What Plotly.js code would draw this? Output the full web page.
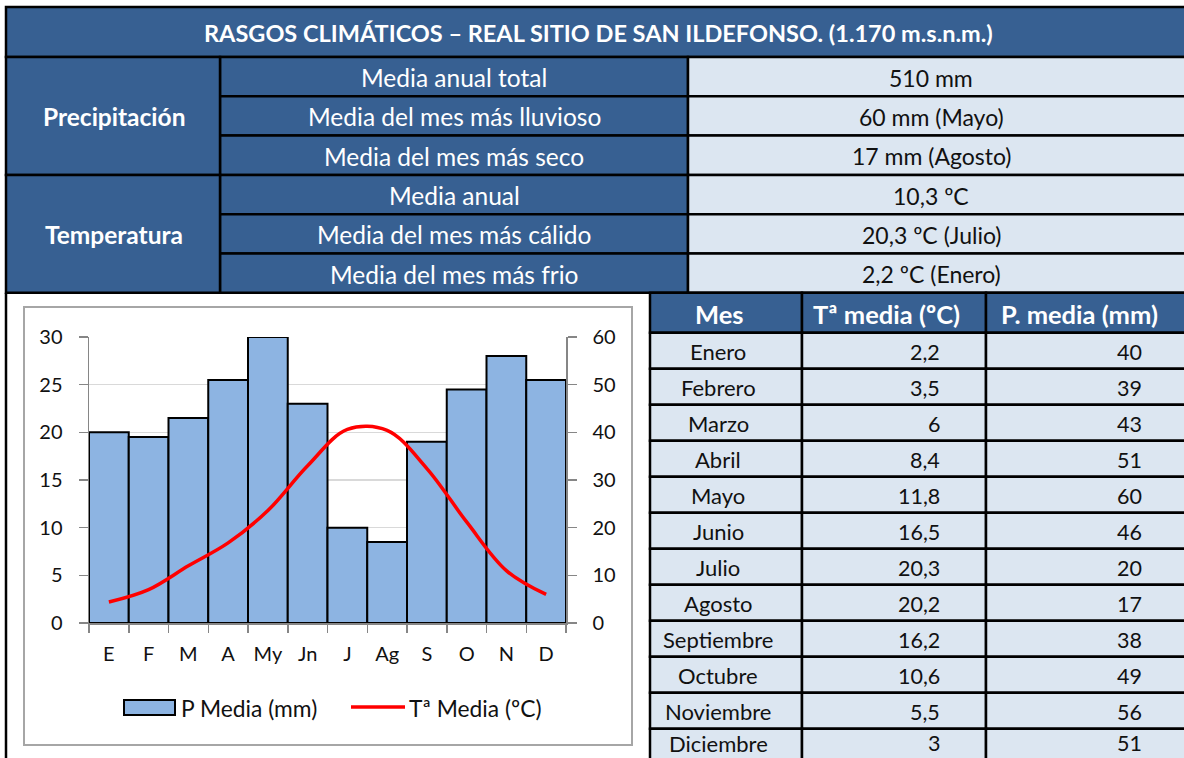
<!DOCTYPE html>
<html><head><meta charset="utf-8">
<script src="https://cdn.plot.ly/plotly-3.0.1.min.js"></script>
<style>html,body{margin:0;padding:0;background:#fff;}#chart{width:1184px;height:758px;}</style>
</head><body><div id="chart"></div>
<script>
// ---------- DATA ----------
const titleText = 'RASGOS CLIMÁTICOS – REAL SITIO DE SAN ILDEFONSO. (1.170 m.s.n.m.)';
const summaryGroups = ['Precipitación', 'Temperatura'];
const summaryLabels = ['Media anual total', 'Media del mes más lluvioso', 'Media del mes más seco',
                       'Media anual', 'Media del mes más cálido', 'Media del mes más frio'];
const summaryValues = ['510 mm', '60 mm (Mayo)', '17 mm (Agosto)',
                       '10,3 ºC', '20,3 ºC (Julio)', '2,2 ºC (Enero)'];
const monthAbbr = ['E', 'F', 'M', 'A', 'My', 'Jn', 'J', 'Ag', 'S', 'O', 'N', 'D'];
const monthNames = ['Enero', 'Febrero', 'Marzo', 'Abril', 'Mayo', 'Junio', 'Julio', 'Agosto',
                    'Septiembre', 'Octubre', 'Noviembre', 'Diciembre'];
const tempMedia = [2.2, 3.5, 6, 8.4, 11.8, 16.5, 20.3, 20.2, 16.2, 10.6, 5.5, 3];
const precMedia = [40, 39, 43, 51, 60, 46, 20, 17, 38, 49, 56, 51];
const tableHeaders = ['Mes', 'Tª media (ºC)', 'P. media (mm)'];
const legendNames = ['P Media (mm)', 'Tª Media (ºC)'];

// ---------- STYLE ----------
const DARK = '#376092', LIGHT = '#dce6f1', BAR = '#8db4e2', FONT = 'Lato, "Open Sans", sans-serif';
const W = 1184, H = 758;
const shapes = [], annotations = [];
function rect(x0, y0, x1, y1, fill, lw, lc) {
  shapes.push({type: 'rect', xref: 'x3', yref: 'y3', x0, y0, x1, y1,
    fillcolor: fill || 'rgba(0,0,0,0)', line: {color: lc || '#000', width: lw === undefined ? 2.5 : lw}});
}
function text(x, y, t, size, color, bold, anchor) {
  annotations.push({xref: 'x3', yref: 'y3', x, y, text: bold ? '<b>' + t + '</b>' : t, showarrow: false,
    xanchor: anchor || 'center', yanchor: 'middle',
    font: {family: FONT, size, color}});
}
const fmt = v => String(v).replace('.', ',');

// ---------- TOP SUMMARY TABLE ----------
const tTop = 7, titleH = 50, rowH = 39.3;
const cx = [6, 220, 688, 1192];
rect(cx[0], tTop, cx[3], tTop + titleH, DARK);
text(598, tTop + titleH / 2 + 1, titleText, 23.5, '#fff', true);
const sTop = tTop + titleH;
summaryLabels.forEach((lab, i) => {
  const y0 = sTop + i * rowH, y1 = y0 + rowH;
  rect(cx[1], y0, cx[2], y1, DARK);
  rect(cx[2], y0, cx[3], y1, LIGHT);
  text(454, (y0 + y1) / 2 + 1, lab, 24.5, '#fff', false);
  text(931, (y0 + y1) / 2 + 1, summaryValues[i], 23, '#111', false);
});
summaryGroups.forEach((g, gi) => {
  const y0 = sTop + gi * 3 * rowH, y1 = y0 + 3 * rowH;
  rect(cx[0], y0, cx[1], y1, DARK);
  text(114, (y0 + y1) / 2 + 1, g, 24.5, '#fff', true);
});
const topBottom = sTop + 6 * rowH;

// ---------- BOTTOM MONTH TABLE ----------
const mx = [650, 802, 986, 1192];
const headerCenters = [719, 886, 1079];
const hTop = topBottom, hH = 40, mRowH = 36;
tableHeaders.forEach((h, j) => {
  rect(mx[j], hTop, mx[j + 1], hTop + hH, DARK);
  text(headerCenters[j], hTop + hH / 2 + 1, h, 25.5, '#fff', true);
});
monthNames.forEach((m, i) => {
  const y0 = hTop + hH + i * mRowH, y1 = y0 + mRowH;
  const yc = Math.min((y0 + y1) / 2 + 1, H - 15);
  for (let j = 0; j < 3; j++) rect(mx[j], y0, mx[j + 1], y1, LIGHT);
  text(718, yc, m, 22, '#111', false);
  text(942, yc, fmt(tempMedia[i]), 21.5, '#111', false, 'right');
  text(1144, yc, fmt(precMedia[i]), 21.5, '#111', false, 'right');
});

// left outer border of chart region & chart frame
shapes.push({type: 'line', xref: 'x3', yref: 'y3', x0: 6, x1: 6, y0: topBottom, y1: H + 5, line: {color: '#000', width: 2.5}});
rect(24, 307, 632, 745, null, 2, '#a6a6a6');

// manual legend
rect(124, 700, 175, 715, BAR, 2, '#000');
text(179, 708, legendNames[0], 22.8, '#111', false, 'left');
shapes.push({type: 'line', xref: 'x3', yref: 'y3', x0: 351, x1: 405, y0: 707, y1: 707, line: {color: '#ff0000', width: 3.5}});
text(407, 708, legendNames[1], 22.8, '#111', false, 'left');

// ---------- CHART ----------
const px = v => v / W, py = v => 1 - v / H;
const plotL = 89, plotR = 566, plotT = 337, plotB = 623;
const axisFont = {family: FONT, size: 20, color: '#111'};

const traces = [
  {type: 'bar', x: monthAbbr, y: precMedia, xaxis: 'x', yaxis: 'y', name: legendNames[0],
   marker: {color: BAR, line: {color: '#000', width: 2}}, showlegend: false, hoverinfo: 'x+y'},
  {type: 'scatter', mode: 'lines', x: monthAbbr, y: tempMedia, xaxis: 'x', yaxis: 'y2', name: legendNames[1],
   line: {color: '#ff0000', width: 3.5, shape: 'spline', smoothing: 1}, showlegend: false},
  {type: 'scatter', x: [], y: [], xaxis: 'x3', yaxis: 'y3', showlegend: false, hoverinfo: 'skip'}
];

const layout = {
  width: W, height: H, margin: {l: 0, r: 0, t: 0, b: 0, pad: 0},
  paper_bgcolor: '#fff', plot_bgcolor: 'rgba(0,0,0,0)',
  bargap: 0, showlegend: false,
  font: {family: FONT, color: '#111'},
  xaxis: {domain: [px(plotL), px(plotR)], type: 'category', range: [-0.5, 11.5],
    tickson: 'boundaries', ticks: 'outside', ticklen: 8, tickwidth: 1.5, tickcolor: '#868686',
    showline: true, linecolor: '#868686', linewidth: 1.5, showgrid: false,
    tickfont: axisFont, ticklabelstandoff: 12, anchor: 'y', fixedrange: true},
  yaxis: {domain: [py(plotB), py(plotT)], range: [0, 60], dtick: 10, side: 'right',
    ticks: 'outside', ticklen: 9, tickwidth: 1.5, tickcolor: '#868686',
    showline: true, linecolor: '#868686', linewidth: 1.5,
    showgrid: true, gridcolor: '#d9d9d9', gridwidth: 1.5, zeroline: false,
    tickfont: axisFont, ticklabelstandoff: 12, anchor: 'x', fixedrange: true},
  yaxis2: {domain: [py(plotB), py(plotT)], range: [0, 30], dtick: 5, side: 'left', overlaying: 'y',
    ticks: 'outside', ticklen: 9, tickwidth: 1.5, tickcolor: '#868686',
    showline: true, linecolor: '#868686', linewidth: 1.5, showgrid: false, zeroline: false,
    tickfont: axisFont, ticklabelstandoff: 12, anchor: 'x', fixedrange: true},
  xaxis3: {domain: [0, 1], range: [0, W], visible: false, fixedrange: true, anchor: 'y3'},
  yaxis3: {domain: [0, 1], range: [H, 0], visible: false, fixedrange: true, anchor: 'x3'},
  shapes, annotations
};

Plotly.newPlot('chart', traces, layout, {displayModeBar: false, staticPlot: true});
</script></body></html>
